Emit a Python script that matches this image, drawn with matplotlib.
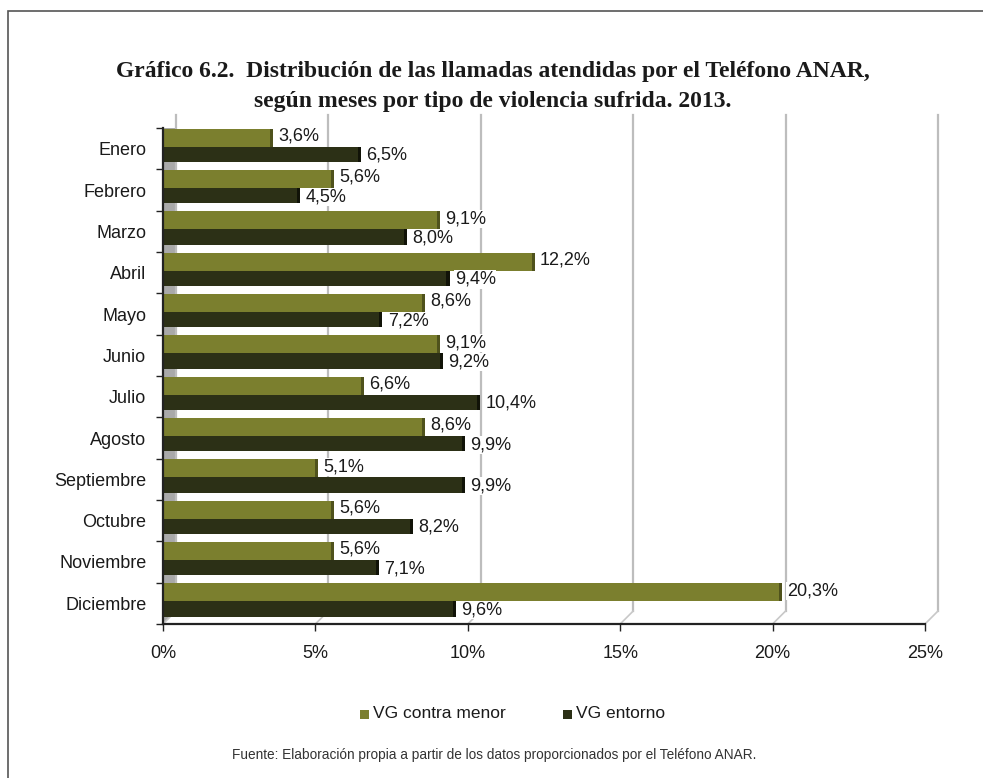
import matplotlib
matplotlib.use("Agg")
import matplotlib.pyplot as plt
from matplotlib.patches import Rectangle, Polygon
from matplotlib.lines import Line2D

meses = ["Enero", "Febrero", "Marzo", "Abril", "Mayo", "Junio", "Julio",
         "Agosto", "Septiembre", "Octubre", "Noviembre", "Diciembre"]
vg_menor = [3.6, 5.6, 9.1, 12.2, 8.6, 9.1, 6.6, 8.6, 5.1, 5.6, 5.6, 20.3]
vg_entorno = [6.5, 4.5, 8.0, 9.4, 7.2, 9.2, 10.4, 9.9, 9.9, 8.2, 7.1, 9.6]
xticks = [0, 5, 10, 15, 20, 25]
xticklabels = ["0%", "5%", "10%", "15%", "20%", "25%"]

c_menor = "#7b7f2e"
c_menor_end = "#4f521c"
c_entorno = "#2c3016"
c_entorno_end = "#111308"

plt.rcParams["font.family"] = ["Liberation Sans", "DejaVu Sans"]

W, H = 983, 778
fig = plt.figure(figsize=(W / 100, H / 100), dpi=100)
fig.patch.set_facecolor("white")

# outer frame (top and left edges visible)
fig.add_artist(Rectangle((8 / W, -0.05), 1.2, 1 - 11 / H + 0.05,
                         transform=fig.transFigure, fill=False,
                         edgecolor="#555555", linewidth=1.2))

ax_l, ax_r, ax_t, ax_b = 163, 925, 128, 624
ax = fig.add_axes([ax_l / W, 1 - ax_b / H, (ax_r - ax_l) / W, (ax_b - ax_t) / H])
ax.set_facecolor("none")

n = len(meses)
ys = list(range(n))
ax.set_xlim(0, 25)
ax.set_ylim(n - 0.5, -0.5)

# depth offset of the 3D back wall, in axes fraction
dx = 13 / (ax_r - ax_l)
dy = 13 / (ax_b - ax_t)

# left side wall
wall = Polygon([(0, 0), (dx, dy), (dx, 1), (0, 1)], closed=True,
               transform=ax.transAxes, facecolor="#a9a9a9", edgecolor="none",
               clip_on=False, zorder=0)
ax.add_patch(wall)

# back-wall gridlines and floor diagonals
for v in xticks:
    fx = v / 25
    ax.add_line(Line2D([fx + dx, fx + dx], [dy, 1 + dy], transform=ax.transAxes,
                       color="#bdbdbd", linewidth=1.6, clip_on=False, zorder=0.5))
    ax.add_line(Line2D([fx, fx + dx], [0, dy], transform=ax.transAxes,
                       color="#c8c8c8", linewidth=1.2, clip_on=False, zorder=0.5))

h_menor, off_menor = 0.43, -0.265
h_entorno, off_entorno = 0.37, 0.135
y_menor = [y + off_menor for y in ys]
y_entorno = [y + off_entorno for y in ys]

ax.barh(y_menor, vg_menor, height=h_menor, color=c_menor, zorder=3)
ax.barh(y_entorno, vg_entorno, height=h_entorno, color=c_entorno, zorder=3)
# shaded bar ends
end_w = 0.1
ax.barh(y_menor, [end_w] * n, left=[v - end_w for v in vg_menor],
        height=h_menor, color=c_menor_end, zorder=3.5)
ax.barh(y_entorno, [end_w] * n, left=[v - end_w for v in vg_entorno],
        height=h_entorno, color=c_entorno_end, zorder=3.5)

for y, v in zip(y_menor, vg_menor):
    ax.text(v + 0.17, y - 0.04, f"{v:.1f}%".replace(".", ","), va="center",
            ha="left", fontsize=13, color="#1a1a1a", zorder=5,
            bbox=dict(facecolor="white", edgecolor="none", pad=0.5))
for y, v in zip(y_entorno, vg_entorno):
    ax.text(v + 0.17, y + 0.03, f"{v:.1f}%".replace(".", ","), va="center",
            ha="left", fontsize=13, color="#1a1a1a", zorder=5,
            bbox=dict(facecolor="white", edgecolor="none", pad=0.5))

ax.set_yticks([y - 0.5 for y in ys] + [n - 0.5])
ax.set_yticklabels([])
ax.set_yticks(ys, minor=True)
ax.set_yticklabels(meses, minor=True, fontsize=13, color="#1a1a1a")
ax.tick_params(axis="y", which="minor", length=0, pad=12)
ax.tick_params(axis="y", which="major", length=5, width=1, color="#222222")

ax.set_xticks(xticks)
ax.set_xticklabels(xticklabels, fontsize=13, color="#1a1a1a")
ax.tick_params(axis="x", length=5, width=1, color="#222222", pad=10)

for s in ["top", "right"]:
    ax.spines[s].set_visible(False)
ax.spines["left"].set_color("#222222")
ax.spines["left"].set_linewidth(1.6)
ax.spines["bottom"].set_color("#222222")
ax.spines["bottom"].set_linewidth(1.6)
ax.spines["left"].set_zorder(4)
ax.spines["bottom"].set_zorder(4)

# title
title_font = dict(family=["Liberation Serif", "DejaVu Serif"], weight="bold",
                  fontsize=17, color="#1a1a1a", ha="center", va="center")
fig.text(493 / W, 1 - 72 / H,
         "Gráfico 6.2.  Distribución de las llamadas atendidas por el Teléfono ANAR,",
         **title_font)
fig.text(493 / W, 1 - 101 / H,
         "según meses por tipo de violencia sufrida. 2013.", **title_font)

# legend
leg_y = 1 - 714 / H
for x0, col, lab in [(360, c_menor, "VG contra menor"), (563, c_entorno, "VG entorno")]:
    fig.add_artist(Rectangle((x0 / W, leg_y - 4.5 / H), 9 / W, 9 / H,
                             transform=fig.transFigure, facecolor=col,
                             edgecolor="none"))
    fig.text((x0 + 13) / W, leg_y, lab, fontsize=12.5, color="#1a1a1a",
             ha="left", va="center")

fig.text(494 / W, 1 - 755 / H,
         "Fuente: Elaboración propia a partir de los datos proporcionados por el Teléfono ANAR.",
         fontsize=9.8, color="#333333", ha="center", va="center")

fig.savefig("out.png", dpi=100, facecolor="white")
